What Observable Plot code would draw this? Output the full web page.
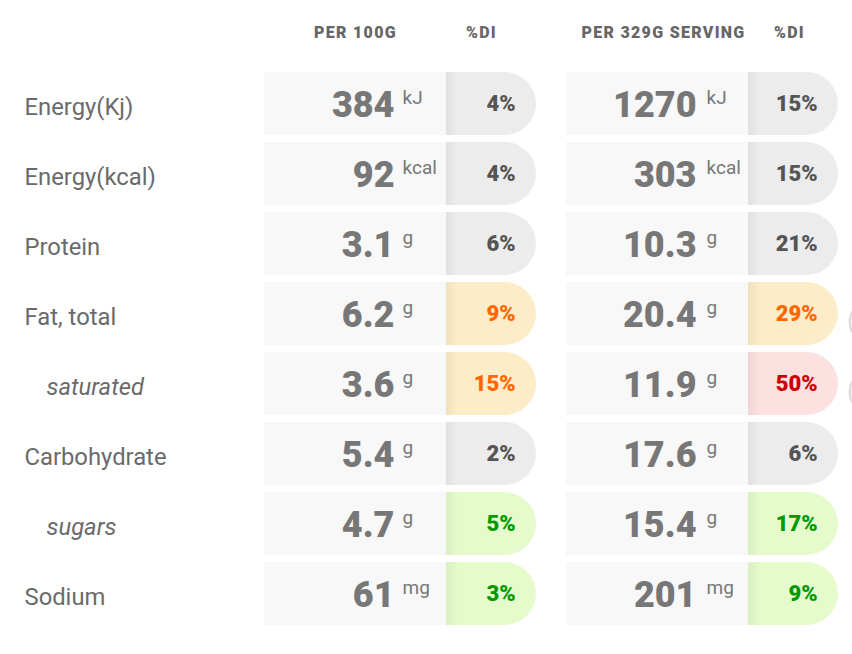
<!DOCTYPE html>
<html>
<head>
<meta charset="utf-8">
<script src="https://cdn.jsdelivr.net/npm/d3@7"></script>
<script src="https://cdn.jsdelivr.net/npm/@observablehq/plot@0.6"></script>
<style>
  html, body { margin: 0; padding: 0; background: #fff; overflow: hidden; }
  #chart { width: 852px; height: 654px; }
</style>
</head>
<body>
<div id="chart"></div>
<script>
// ---- data ----
const nutrients = ["Energy(Kj)", "Energy(kcal)", "Protein", "Fat, total", "saturated", "Carbohydrate", "sugars", "Sodium"];
const isSub = [false, false, false, false, true, false, true, false];
const units = ["kJ", "kcal", "g", "g", "g", "g", "g", "mg"];
const per100g = ["384", "92", "3.1", "6.2", "3.6", "5.4", "4.7", "61"];
const di100g = [4, 4, 6, 9, 15, 2, 5, 3];
const level100g = ["neutral", "neutral", "neutral", "warn", "warn", "neutral", "good", "good"];
const perServing = ["1270", "303", "10.3", "20.4", "11.9", "17.6", "15.4", "201"];
const diServing = [15, 15, 21, 29, 50, 6, 17, 9];
const levelServing = ["neutral", "neutral", "neutral", "warn", "high", "neutral", "good", "good"];
const hasNote = [false, false, false, true, true, false, false, false];
const headers = ["PER 100G", "%DI", "PER 329G SERVING", "%DI"];

// ---- styles / layout ----
const pillFill = {neutral: "#ececec", warn: "#fdecc8", high: "#fde0e0", good: "#e5fbcc"};
const pillText = {neutral: "#555555", warn: "#ff6600", high: "#cc0000", good: "#009a00"};
const groups = [
  {block: [264, 446], pill: [446, 536], valueEnd: 394, unitStart: 402, pctEnd: 515, head: [355, 481]},
  {block: [566, 748], pill: [748, 838], valueEnd: 696, unitStart: 706, pctEnd: 817, head: [663, 789]}
];

const cells = [];
nutrients.forEach((name, i) => {
  [[per100g, di100g, level100g], [perServing, diServing, levelServing]].forEach(([vals, dis, lvls], g) => {
    const G = groups[g];
    cells.push({name, value: vals[i], unit: units[i], di: dis[i] + "%", level: lvls[i],
      b1: G.block[0], b2: G.block[1], p1: G.pill[0], p2: G.pill[1], pmid: (G.pill[0] + G.pill[1]) / 2,
      shade: G.pill[0] + 12, valueEnd: G.valueEnd, unitStart: G.unitStart, pctEnd: G.pctEnd});
  });
});
const rows = nutrients.map((name, i) => ({name, sub: isSub[i], note: hasNote[i]}));
const heads = headers.map((t, i) => ({t, x: groups[Math.floor(i / 2)].head[i % 2]}));

const font = "Roboto, 'Noto Sans', sans-serif";

const chart = Plot.plot({
  width: 852,
  height: 654,
  marginLeft: 0, marginRight: 0, marginTop: 68.5, marginBottom: 25.5,
  style: {fontFamily: font, background: "#fff", overflow: "hidden"},
  x: {domain: [0, 852], axis: null},
  y: {type: "band", domain: nutrients, paddingInner: 0.1, paddingOuter: 0.05, round: false, axis: null},
  marks: [
    // header texts
    Plot.text(heads, {x: "x", text: "t", frameAnchor: "top", lineAnchor: "bottom", dy: -31,
      fontSize: 16, fontWeight: 900, fill: "#666", fontFamily: font, textAnchor: "middle"}),
    // light blocks
    Plot.barX(cells, {x1: "b1", x2: "b2", y: "name", fill: "#f8f8f8"}),
    // pills: rounded + square left half
    Plot.barX(cells, {x1: "p1", x2: "p2", y: "name", fill: d => pillFill[d.level], rx: 31.5}),
    Plot.barX(cells, {x1: "p1", x2: "pmid", y: "name", fill: d => pillFill[d.level]}),
    // left shading of pill
    Plot.barX(cells, {x1: "p1", x2: "shade", y: "name", fill: "url(#pillShade)"}),
    // note circles at the right edge
    Plot.dot(rows.filter(d => d.note), {x: 870, y: "name", r: 21, dy: 8, fill: "#efefef", stroke: "#d6d6d6", strokeWidth: 1.5}),
    // row labels
    Plot.text(rows.filter(d => !d.sub), {x: 24, y: "name", text: "name", textAnchor: "start", lineAnchor: "bottom",
      dy: 11, fontSize: 23.8, fill: "#6a6a6a", fontFamily: font}),
    Plot.text(rows.filter(d => d.sub), {x: 46, y: "name", text: "name", textAnchor: "start", lineAnchor: "bottom",
      dy: 11, fontSize: 23.8, fontStyle: "italic", fill: "#6a6a6a", fontFamily: font}),
    // values
    Plot.text(cells, {x: "valueEnd", y: "name", text: "value", textAnchor: "end", lineAnchor: "bottom",
      dy: 12.5, fontSize: 36, fontWeight: 900, fill: "#777", fontFamily: font}),
    // units
    Plot.text(cells, {x: "unitStart", y: "name", text: "unit", textAnchor: "start", lineAnchor: "bottom",
      dy: 0, fontSize: 19, fill: "#777", fontFamily: font}),
    // percent DI
    Plot.text(cells, {x: "pctEnd", y: "name", text: "di", textAnchor: "end", lineAnchor: "bottom",
      dy: 6.5, fontSize: 22, fontWeight: 900, fill: d => pillText[d.level], fontFamily: font})
  ]
});

chart.insertAdjacentHTML("afterbegin",
  '<defs><linearGradient id="pillShade" x1="0" x2="1" y1="0" y2="0">' +
  '<stop offset="0" stop-color="#000" stop-opacity="0.05"/>' +
  '<stop offset="1" stop-color="#000" stop-opacity="0"/></linearGradient></defs>');

// widen header lettering like the original
chart.querySelectorAll("text").forEach(t => {
  if (headers.includes(t.textContent)) t.style.letterSpacing = "1.3px";
});

document.getElementById("chart").appendChild(chart);
</script>
</body>
</html>
